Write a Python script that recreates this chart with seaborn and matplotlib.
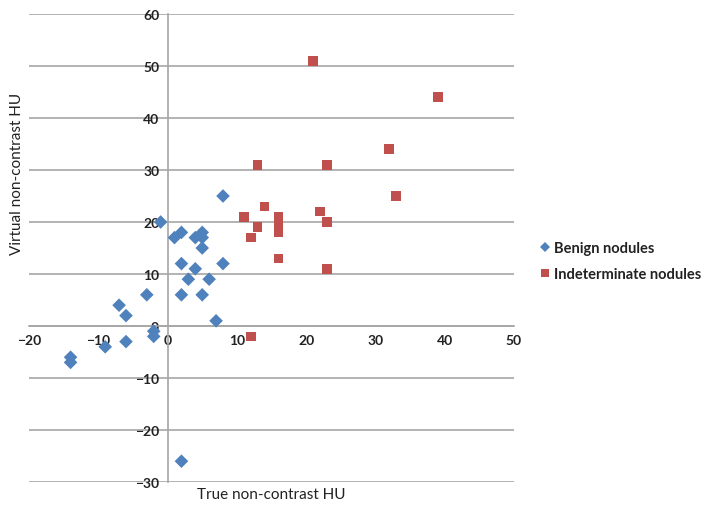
import matplotlib
matplotlib.use("Agg")
import matplotlib.pyplot as plt
import seaborn as sns
import pandas as pd

benign_x = [-7, -6, 7, -2, -2, -6, -9, -14, -14, 2, 8, -1, 1, 2, 4, 5, 5, 5, 2, 8, 4, 3, 6, 2, 5, -3]
benign_y = [4, 2, 1, -1, -2, -3, -4, -6, -7, -26, 25, 20, 17, 18, 17, 18, 17, 15, 12, 12, 11, 9, 9, 6, 6, 6]
indet_x = [21, 39, 32, 13, 23, 33, 14, 22, 11, 16, 23, 13, 16, 16, 12, 16, 23, 12]
indet_y = [51, 44, 34, 31, 31, 25, 23, 22, 21, 21, 20, 19, 19, 18, 17, 13, 11, -2]
series_names = ["Benign nodules", "Indeterminate nodules"]
x_ticks = [-20, -10, 0, 10, 20, 30, 40, 50]
y_ticks = [-30, -20, -10, 0, 10, 20, 30, 40, 50, 60]

df = pd.DataFrame({
    "x": benign_x + indet_x,
    "y": benign_y + indet_y,
    "group": [series_names[0]] * len(benign_x) + [series_names[1]] * len(indet_x),
})

sns.set_style("white")
plt.rcParams["font.family"] = ["Lato", "DejaVu Sans"]

fig = plt.figure(figsize=(7.14, 5.10), dpi=100)
ax = fig.add_axes([29 / 714, 1 - 483 / 510, (514 - 29) / 714, (483 - 15) / 510])

sns.scatterplot(data=df, x="x", y="y", hue="group", style="group",
                palette={series_names[0]: "#4F81BD", series_names[1]: "#C0504D"},
                markers={series_names[0]: "D", series_names[1]: "s"},
                s=48, linewidth=0, ax=ax, zorder=3)

ax.set_xlim(-20, 50)
ax.set_ylim(-30, 60)
ax.set_xticks(x_ticks)
ax.set_yticks(y_ticks)
ax.yaxis.grid(True, color="#a6a6a6", linewidth=1.2)
ax.xaxis.grid(False)
ax.set_axisbelow(True)

for side in ["top", "right"]:
    ax.spines[side].set_visible(False)
ax.spines["left"].set_position(("data", 0))
ax.spines["bottom"].set_position(("data", 0))
for side in ["left", "bottom"]:
    ax.spines[side].set_color("#a6a6a6")
    ax.spines[side].set_linewidth(1.2)
ax.tick_params(axis="both", direction="out", length=4, color="#a6a6a6",
               labelsize=10, labelcolor="#222222", pad=2)
for lab in ax.get_xticklabels() + ax.get_yticklabels():
    lab.set_fontweight("bold")

ax.set_xlabel("")
ax.set_ylabel("")
fig.text(271 / 714, 1 - 495 / 510, "True non-contrast HU", ha="center", va="center",
         fontsize=11, color="#222222")
fig.text(17 / 714, 1 - 174 / 510, "Virtual non-contrast HU", ha="center", va="center",
         rotation=90, fontsize=11, color="#222222")

leg = ax.legend(loc="upper left", bbox_to_anchor=(538 / 714, 1 - 242 / 510),
                bbox_transform=fig.transFigure, frameon=False,
                prop={"size": 10.5, "weight": "bold"},
                handletextpad=0.2, labelspacing=0.8, borderaxespad=0, borderpad=0,
                handlelength=0.9, markerscale=0.75)
for t in leg.get_texts():
    t.set_color("#222222")

fig.savefig("out.png", dpi=100)
